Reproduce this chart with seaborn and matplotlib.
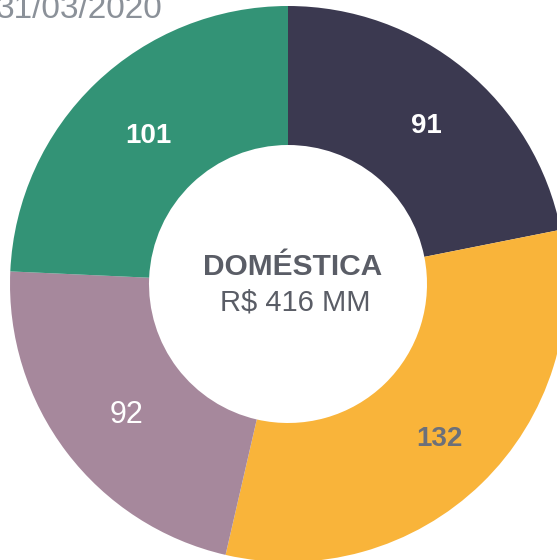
import numpy as np
import matplotlib
matplotlib.use("Agg")
import matplotlib.pyplot as plt
import seaborn as sns

# Data
categories = ["A", "B", "C", "D"]
values = [91, 132, 92, 101]
colors = ["#3b3950", "#f9b43a", "#a6889c", "#339376"]
label_colors = ["white", "#6c707a", "white", "white"]
label_weights = ["bold", "bold", "normal", "bold"]
label_sizes = [20, 20, 22, 20]
title_text = "DOMÉSTICA"
total_text = "R$ 416 MM"
date_text = "31/03/2020"

sns.set_theme(style="white")
plt.rcParams["font.family"] = ["Liberation Sans", "DejaVu Sans"]

fig = plt.figure(figsize=(5.57, 5.60), dpi=100)
ax = fig.add_axes([0, 0, 1, 1])

wedges, _ = ax.pie(values, colors=colors, startangle=90, counterclock=False,
                   radius=1.0, wedgeprops=dict(width=0.5, edgecolor="none"))

# value labels at middle of each ring segment
total = sum(values)
start = 90.0
for v, lc, lw, ls in zip(values, label_colors, label_weights, label_sizes):
    mid = np.deg2rad(start - v / total * 180.0)
    ax.text(0.755 * np.cos(mid) + 0.02, 0.755 * np.sin(mid) - 0.015, str(v),
            color=lc, fontsize=ls, fontweight=lw, ha="center", va="center")
    start -= v / total * 360.0

ax.text(0.015, 0.06, title_text, ha="center", va="center", fontsize=21.5,
        fontweight="bold", color="#5a5d66")
ax.text(0.025, -0.068, total_text, ha="center", va="center", fontsize=21,
        color="#5a5d66")

ax.set_xlim(-288 / 278, 269 / 278)
ax.set_ylim(-276 / 278, 284 / 278)
ax.set_aspect("equal")
ax.axis("off")

fig.text(-0.008, 1 - 18 / 560, date_text, ha="left", va="baseline",
         fontsize=24, color="#8b9199")

fig.savefig("out.png", dpi=100)
